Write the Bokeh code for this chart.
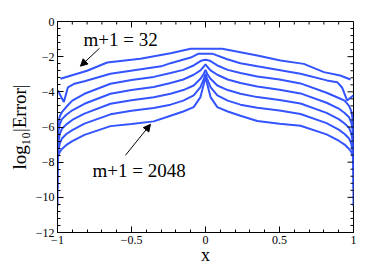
import math
from bokeh.plotting import figure
from bokeh.models import Range1d, FixedTicker, Label, Arrow, NormalHead
from bokeh.embed import file_html
from bokeh.resources import INLINE

# ---- data ----
# curve m+1 = 32 (coarse polyline)
x_32 = [-0.98, -0.80, -0.664, -0.44, -0.236, -0.10, 0.113, 0.35, 0.507, 0.664, 0.80, 0.91, 0.98]
y_32 = [-3.26, -2.80, -2.33, -2.12, -1.80, -1.55, -1.55, -1.93, -2.22, -2.41, -2.88, -3.07, -3.30]

# curve m+1 = 64
x_64 = [-0.998, -0.957, -0.93, -0.885, -0.818, -0.642, -0.30, -0.236, -0.10, -0.05,
        0.05, 0.147, 0.236, 0.35, 0.642, 0.82, 0.89, 0.924, 0.957, 1.0]
y_64 = [-3.92, -4.58, -3.75, -3.54, -3.40, -2.97, -2.55, -2.37, -2.05, -1.84,
        -1.84, -2.15, -2.37, -2.55, -2.97, -3.35, -3.45, -3.77, -4.49, -4.20]

# shared abscissae for the finer curves
x_fine = [-1.0, -0.999, -0.995, -0.985, -0.97, -0.94, -0.9, -0.818, -0.642, -0.5, -0.35,
          -0.236, -0.15, -0.08, -0.034, -0.011, 0.0, 0.011, 0.034, 0.08, 0.15, 0.236,
          0.35, 0.5, 0.642, 0.818, 0.9, 0.94, 0.97, 0.985, 0.995, 0.999, 1.0]

y_128 = [-6.5, -6.2, -5.8, -5.4, -5.15, -4.85, -4.5, -4.11, -3.54, -3.33, -3.15,
         -2.93, -2.75, -2.5, -2.25, -2.19, -2.18, -2.19, -2.25, -2.5, -2.75, -2.93,
         -3.13, -3.30, -3.52, -4.05, -4.35, -4.5, -4.8, -5.1, -5.6, -6.1, -6.5]
y_256 = [-7.5, -6.9, -6.3, -5.85, -5.55, -5.3, -5.05, -4.68, -4.11, -3.9, -3.72,
         -3.50, -3.3, -3.03, -2.78, -2.56, -2.44, -2.56, -2.78, -3.03, -3.3, -3.50,
         -3.70, -3.88, -4.09, -4.62, -4.95, -5.2, -5.45, -5.75, -6.2, -6.8, -7.5]
y_512 = [-8.5, -7.5, -6.9, -6.4, -6.1, -5.85, -5.6, -5.24, -4.68, -4.48, -4.31,
         -4.11, -3.9, -3.64, -3.26, -2.97, -2.75, -2.97, -3.26, -3.64, -3.9, -4.11,
         -4.30, -4.46, -4.66, -5.20, -5.55, -5.8, -6.05, -6.35, -6.85, -7.5, -8.5]
y_1024 = [-9.5, -8.1, -7.4, -6.95, -6.65, -6.4, -6.18, -5.81, -5.28, -5.08, -4.92,
          -4.73, -4.5, -4.2, -3.73, -3.26, -2.97, -3.26, -3.73, -4.2, -4.5, -4.73,
          -4.90, -5.06, -5.26, -5.78, -6.15, -6.4, -6.65, -6.95, -7.4, -8.1, -9.5]
y_2048 = [-10.5, -8.2, -7.65, -7.42, -7.25, -7.02, -6.8, -6.45, -5.95, -5.83, -5.68,
          -5.36, -5.12, -4.87, -4.3, -3.54, -3.16, -3.54, -4.3, -4.87, -5.12, -5.36,
          -5.66, -5.81, -5.93, -6.42, -6.78, -7.0, -7.25, -7.42, -7.65, -8.2, -10.5]

x_ticks = [-1, -0.5, 0, 0.5, 1]
x_tick_labels = ["\u22121", "\u22120.5", "0", "0.5", "1"]
x_minor = [-0.9, -0.8, -0.7, -0.6, -0.4, -0.3, -0.2, -0.1,
           0.1, 0.2, 0.3, 0.4, 0.6, 0.7, 0.8, 0.9]
y_ticks = [0, -2, -4, -6, -8, -10, -12]
y_tick_labels = ["0", "\u22122", "\u22124", "\u22126", "\u22128", "\u221210", "\u221212"]
y_minor = [-0.4, -0.8, -1.2, -1.6, -2.4, -2.8, -3.2, -3.6, -4.4, -4.8, -5.2, -5.6,
           -6.4, -6.8, -7.2, -7.6, -8.4, -8.8, -9.2, -9.6, -10.4, -10.8, -11.2, -11.6]

x_title = "x"
y_title = "log\u2081\u2080|Error|"

BLUE = "#3354FF"
SERIF = "Liberation Serif"

p = figure(width=389, height=267, x_range=Range1d(-1, 1), y_range=Range1d(-12, 0),
           output_backend="svg", toolbar_location=None,
           min_border_left=57, min_border_right=36, min_border_top=21, min_border_bottom=35)
p.xgrid.visible = False
p.ygrid.visible = False
p.outline_line_color = "black"
p.outline_line_width = 1
p.background_fill_color = "white"

for xs, ys in [(x_32, y_32), (x_64, y_64), (x_fine, y_128), (x_fine, y_256),
               (x_fine, y_512), (x_fine, y_1024), (x_fine, y_2048)]:
    p.line(xs, ys, line_color=BLUE, line_width=2)


def style_axis(ax, ticks, minor, labels):
    ax.ticker = FixedTicker(ticks=ticks, minor_ticks=minor)
    ax.axis_line_color = "black"
    ax.major_tick_in = 6
    ax.major_tick_out = 0
    ax.minor_tick_in = 3
    ax.minor_tick_out = 0
    ax.major_tick_line_color = "black"
    ax.minor_tick_line_color = "black"
    ax.major_label_overrides = labels
    ax.major_label_text_font = SERIF
    ax.major_label_text_font_size = "12px"
    ax.major_label_text_color = "black"
    ax.major_label_standoff = 3
    ax.axis_label_text_font = SERIF
    ax.axis_label_text_font_style = "normal"
    ax.axis_label_text_color = "black"


style_axis(p.xaxis[0], x_ticks, x_minor, {t: l for t, l in zip(x_ticks, x_tick_labels)})
style_axis(p.yaxis[0], y_ticks, y_minor, {t: l for t, l in zip(y_ticks, y_tick_labels)})
p.xaxis[0].axis_label = x_title
p.xaxis[0].axis_label_text_font_size = "18px"
p.xaxis[0].axis_label_standoff = -2
p.yaxis[0].axis_label = y_title
p.yaxis[0].axis_label_text_font_size = "19px"
p.yaxis[0].axis_label_standoff = 3

# inward ticks on the top and right edges of the frame
p.ray(x=x_ticks, y=[0] * len(x_ticks), length=6, length_units="screen",
      angle=-math.pi / 2, line_color="black", line_width=1)
p.ray(x=x_minor, y=[0] * len(x_minor), length=3, length_units="screen",
      angle=-math.pi / 2, line_color="black", line_width=1)
p.ray(x=[1] * len(y_ticks), y=y_ticks, length=6, length_units="screen",
      angle=math.pi, line_color="black", line_width=1)
p.ray(x=[1] * len(y_minor), y=y_minor, length=3, length_units="screen",
      angle=math.pi, line_color="black", line_width=1)

# annotations
p.add_layout(Label(x=-0.824, y=-1.05, text="m+1 = 32", text_font=SERIF,
                   text_font_size="19px", text_align="left", text_baseline="alphabetic",
                   text_color="black"))
p.add_layout(Label(x=-0.764, y=-8.47, text="m+1 = 2048", text_font=SERIF,
                   text_font_size="19px", text_align="left", text_baseline="alphabetic",
                   text_color="black"))
p.add_layout(Arrow(end=NormalHead(size=7, fill_color="black", line_color="black"),
                   x_start=-0.716, y_start=-1.52, x_end=-0.845, y_end=-2.54,
                   line_color="black", line_width=1))
p.add_layout(Arrow(end=NormalHead(size=7, fill_color="black", line_color="black"),
                   x_start=-0.541, y_start=-7.61, x_end=-0.372, y_end=-5.85,
                   line_color="black", line_width=1))

open("out.html", "w").write(file_html(p, INLINE))
